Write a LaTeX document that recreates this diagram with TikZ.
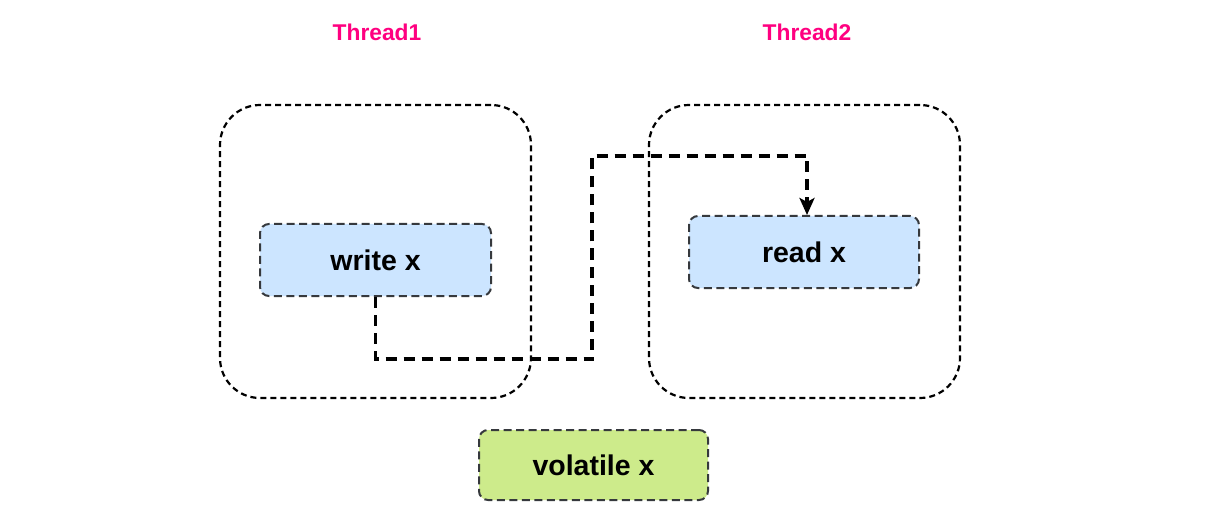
\documentclass[tikz,border=0pt]{standalone}
\usepackage{fontspec}
\setmainfont{Liberation Sans}
\usetikzlibrary{arrows.meta}
\definecolor{pinkT}{HTML}{FF0080}
\definecolor{blueF}{HTML}{CCE5FF}
\definecolor{greenF}{HTML}{CDEB8B}
\definecolor{bord}{HTML}{36393D}
\tikzset{
  thread/.style={draw=black, line width=2.2pt, dash pattern=on 6pt off 4pt, rounded corners=40pt, minimum width=311pt, minimum height=293pt},
  opbox/.style={draw=bord, line width=2pt, dash pattern=on 8pt off 4.5pt, rounded corners=9pt, font=\fontsize{28.5}{32}\selectfont\bfseries, inner sep=0pt},
  tlabel/.style={text=pinkT, font=\fontsize{22.8}{26}\selectfont\bfseries},
  conn/.style={draw=black, line width=3.6pt, dash pattern=on 11pt off 7pt}
}
\begin{document}
\begin{tikzpicture}[x=1pt,y=-1pt]
\useasboundingbox (0,0) rectangle (1226,513);
\fill[white] (0,0) rectangle (1226,513);
\node[tlabel] (t1) at (377,32) {Thread1};
\node[tlabel] (t2) at (807,32) {Thread2};
\node[thread] (box1) at (375.5,251.5) {};
\node[thread] (box2) at (804.5,251.5) {};
\node[opbox, fill=blueF, minimum width=231pt, minimum height=72pt] (writex) at (375.5,260) {write x};
\node[opbox, fill=blueF, minimum width=230pt, minimum height=72pt] (readx) at (804,252) {read x};
\node[opbox, fill=greenF, minimum width=229pt, minimum height=70pt] (volx) at (593.5,465) {volatile x};
\coordinate (c1) at (592,359);
\coordinate (c2) at (592,156);
\draw[conn, -{Stealth[length=17pt,width=15pt,inset=4pt]}] (writex.south) |- (c1) -- (c2) -| ([xshift=3pt]readx.north);
\end{tikzpicture}
\end{document}
